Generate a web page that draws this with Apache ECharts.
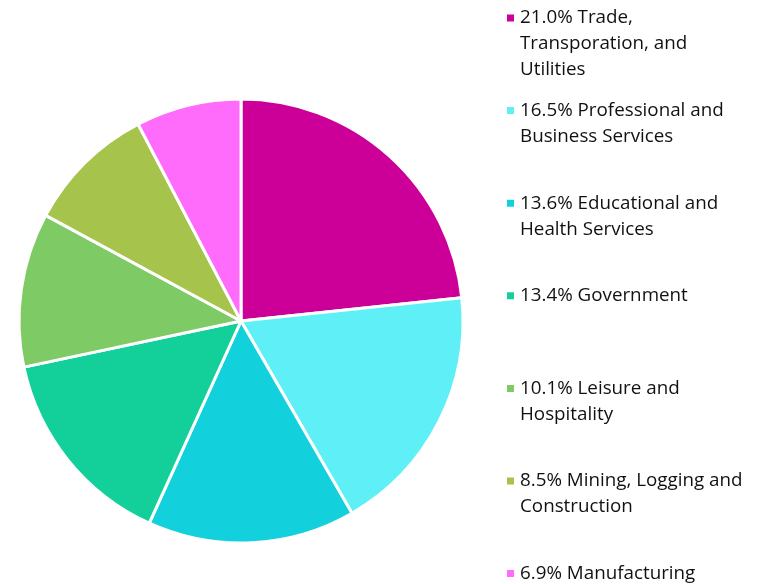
<!DOCTYPE html>
<html>
<head>
<meta charset="utf-8">
<script src="https://cdn.jsdelivr.net/npm/echarts@6/dist/echarts.min.js"></script>
<style>
  html, body { margin: 0; padding: 0; background: #fff; }
  #container { width: 766px; height: 584px; }
</style>
</head>
<body>
<div id="container"></div>
<script>
var sectors = ['Trade, Transporation, and Utilities', 'Professional and Business Services',
    'Educational and Health Services', 'Government', 'Leisure and Hospitality',
    'Mining, Logging and Construction', 'Manufacturing'];
// legend text as it wraps in the original
var legendLines = [
    ['21.0% Trade,', 'Transporation, and', 'Utilities'],
    ['16.5% Professional and', 'Business Services'],
    ['13.6% Educational and', 'Health Services'],
    ['13.4% Government'],
    ['10.1% Leisure and', 'Hospitality'],
    ['8.5% Mining, Logging and', 'Construction'],
    ['6.9% Manufacturing']
];
var shares = [21.0, 16.5, 13.6, 13.4, 10.1, 8.5, 6.9];
var colors = ['#cc0099', '#5ef0f6', '#12d0dc', '#13d09b', '#7ecb66', '#a6c34b', '#ff6bfa'];

document.addEventListener('DOMContentLoaded', function () {
    var myChart = echarts.init(document.getElementById('container'));

    var lineH = 26;
    // pad each entry to 5 lines so the marker sits on the first line
    function legendText(name) {
        var lines = legendLines[sectors.indexOf(name)];
        var out = ['', ''].concat(lines);
        while (out.length < 5) out.push('');
        return out.join('\n');
    }

    var option = {
        color: colors,
        legend: {
            orient: 'vertical',
            left: 505,
            top: 18 - 2.5 * lineH,
            height: 1200,
            padding: 0,
            itemGap: 92.6 - 5 * lineH,
            itemWidth: 9,
            itemHeight: 9,
            icon: 'rect',
            selectedMode: false,
            formatter: legendText,
            textStyle: {
                fontFamily: 'Open Sans',
                fontSize: 18.8,
                color: '#111',
                lineHeight: lineH
            }
        },
        series: [{
            type: 'pie',
            center: [241, 321],
            radius: 222,
            startAngle: 90,
            clockwise: true,
            label: { show: false },
            labelLine: { show: false },
            itemStyle: { borderColor: '#fff', borderWidth: 3 },
            emphasis: { disabled: true },
            data: sectors.map(function (s, i) {
                return { name: s, value: shares[i] };
            })
        }]
    };

    myChart.setOption(option);
    window.addEventListener('resize', myChart.resize);
});
</script>
</body>
</html>
